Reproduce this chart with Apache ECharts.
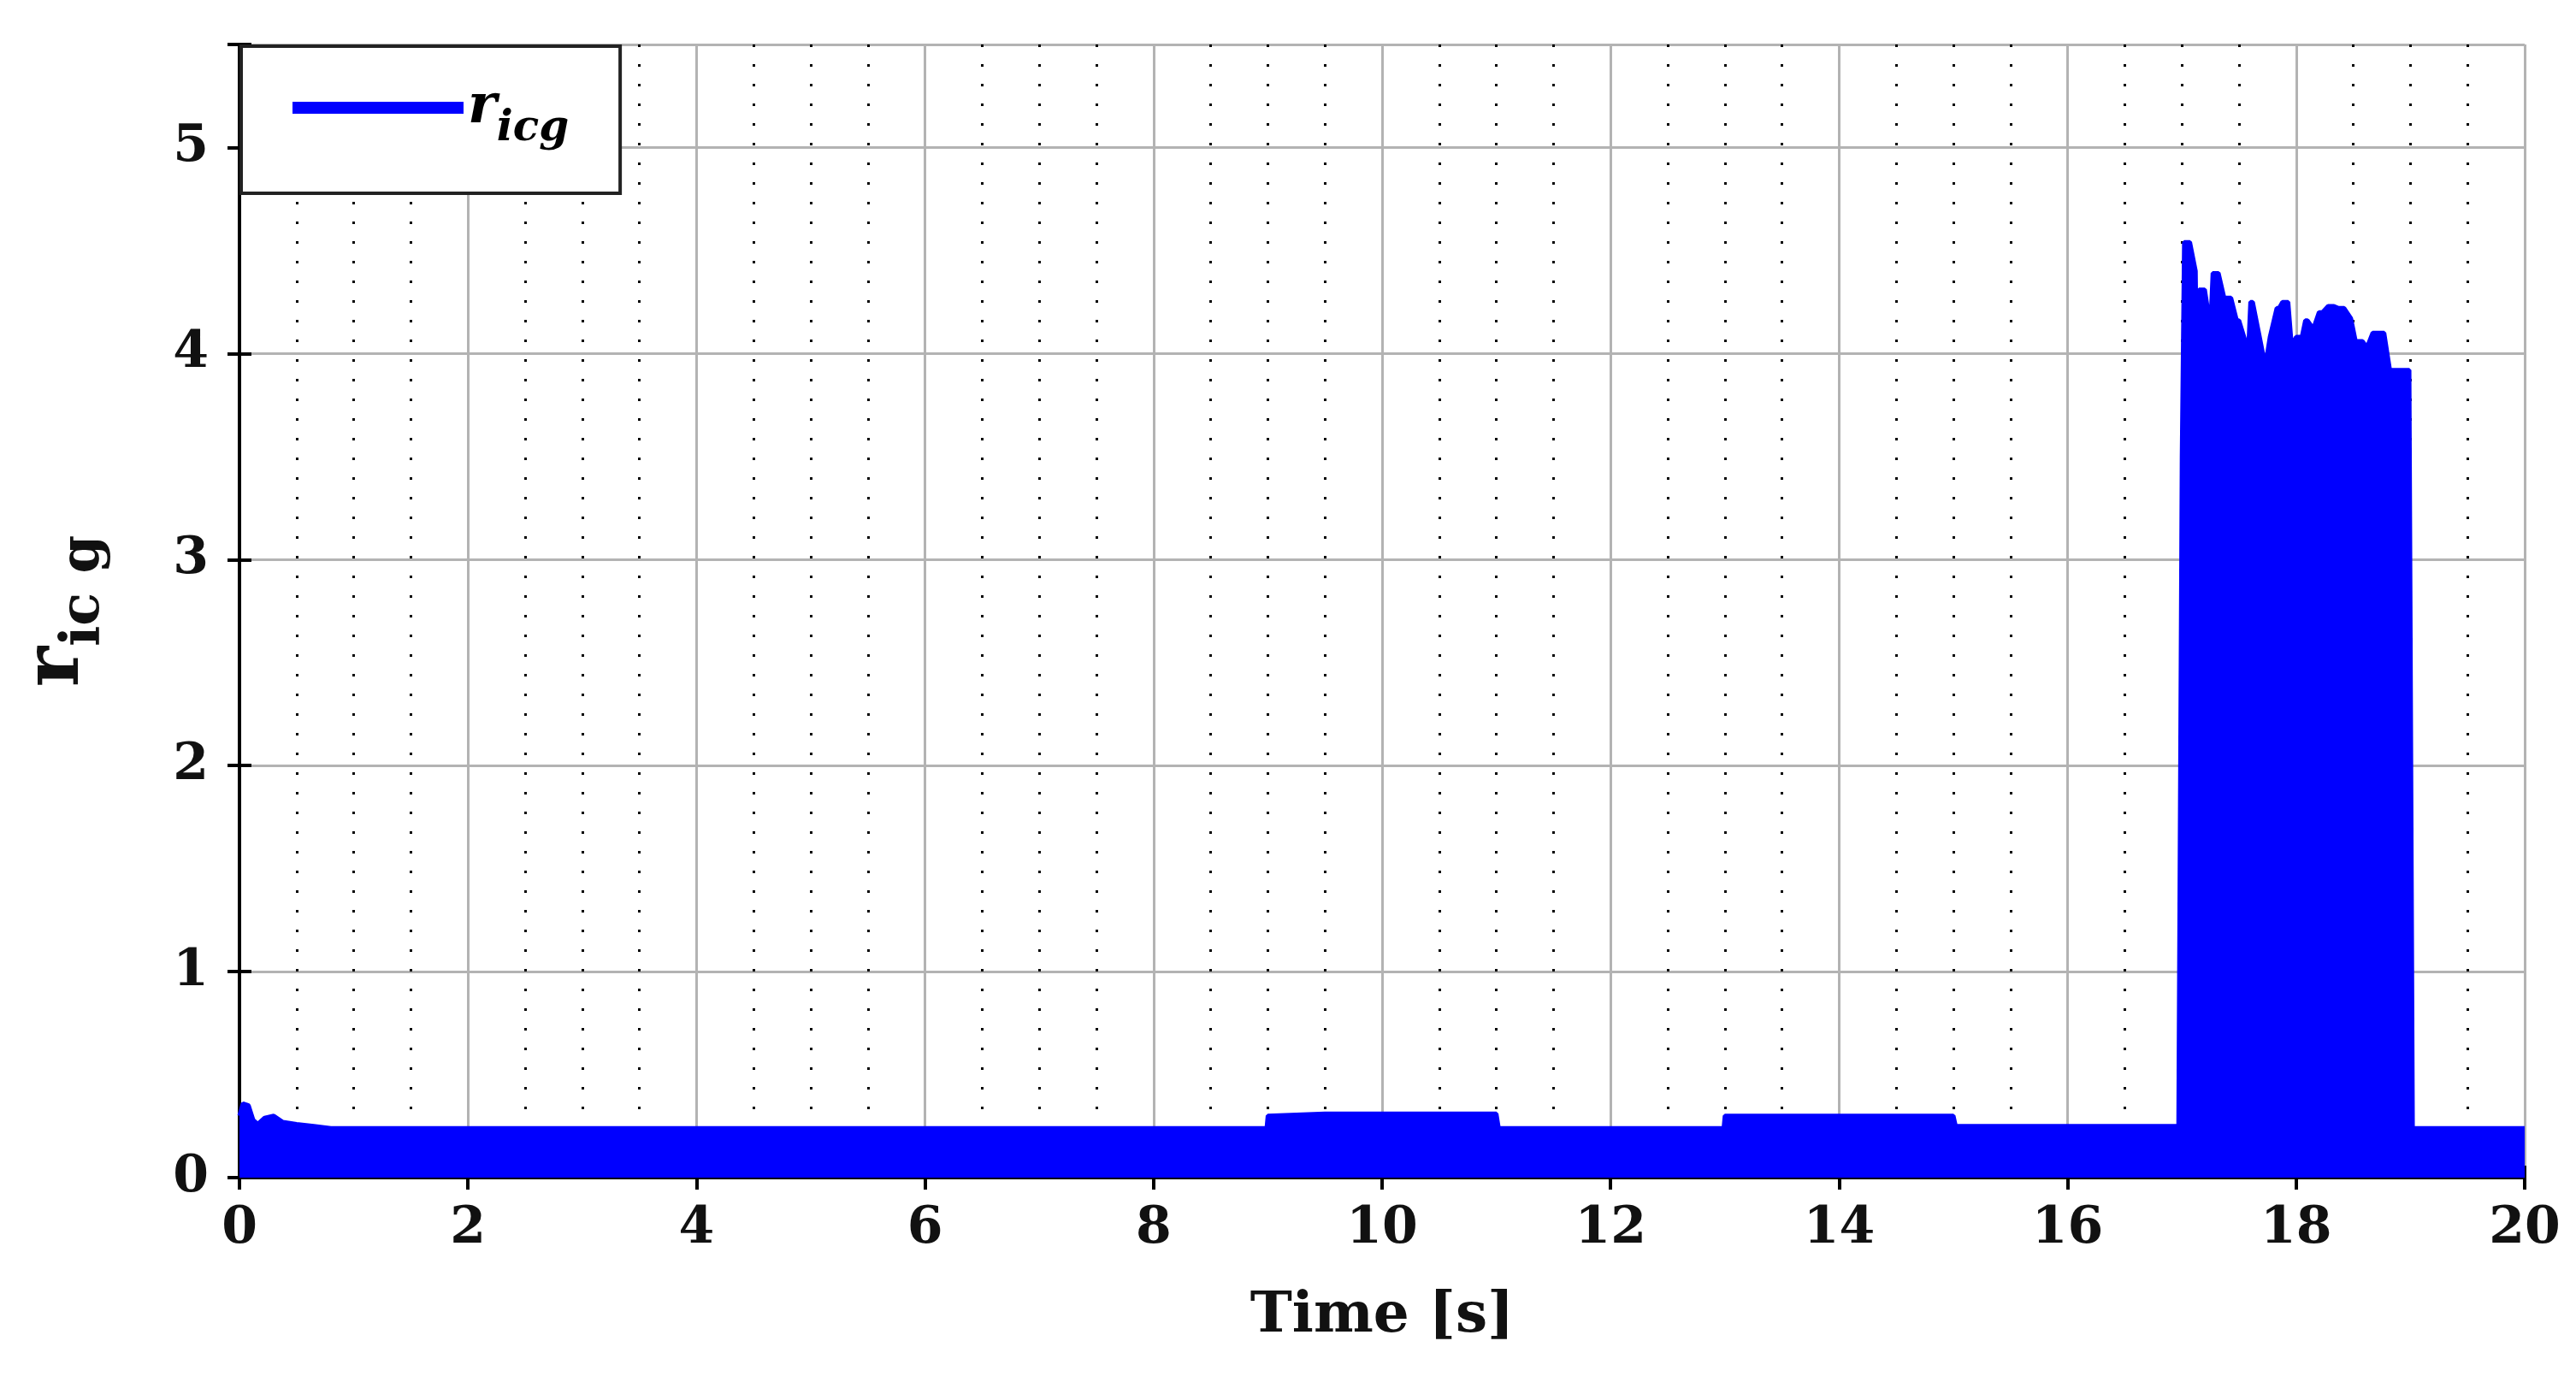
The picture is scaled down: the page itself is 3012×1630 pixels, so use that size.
<!DOCTYPE html>
<html>
<head>
<meta charset="utf-8">
<script src="https://cdn.jsdelivr.net/npm/echarts@6/dist/echarts.min.js"></script>
<style>html,body{margin:0;background:#fff}#c{width:3012px;height:1630px}</style>
</head>
<body>
<div id="c"></div>
<script>
// upper envelope of r_icg
var times = [0, 0.03, 0.08, 0.12, 0.16, 0.22, 0.3, 0.38, 0.5, 0.65, 0.8, 1.0, 3, 5, 7, 8.99,
  9.0, 9.5, 10, 10.5, 11.0, 11.02, 12.9, 12.99, 13.0, 13.5, 14, 14.5, 15.0, 15.02, 16.97,
  17.0, 17.02, 17.07, 17.12, 17.13, 17.15, 17.2, 17.25, 17.26, 17.27, 17.32, 17.37, 17.38, 17.43,
  17.48, 17.5, 17.55, 17.58, 17.6, 17.62, 17.67, 17.73, 17.77, 17.83, 17.85, 17.88, 17.93,
  17.96, 18.0, 18.05, 18.08, 18.1, 18.15, 18.2, 18.23, 18.28, 18.33, 18.37, 18.42, 18.48,
  18.52, 18.58, 18.62, 18.67, 18.71, 18.77, 18.82, 18.86, 18.9, 18.95, 18.99, 19.0, 19.02, 20];
var values = [0.3, 0.36, 0.35, 0.28, 0.26, 0.29, 0.3, 0.27, 0.26, 0.25, 0.24, 0.24, 0.24, 0.24, 0.24, 0.24,
  0.3, 0.31, 0.31, 0.31, 0.31, 0.24, 0.24, 0.24, 0.3, 0.3, 0.3, 0.3, 0.3, 0.25, 0.25,
  3.5, 4.54, 4.54, 4.4, 3.92, 4.31, 4.31, 4.13, 4.13, 4.39, 4.39, 4.27, 4.27, 4.27,
  4.16, 4.16, 4.07, 4.0, 4.25, 4.25, 4.11, 3.94, 4.08, 4.22, 4.22, 4.25, 4.25,
  4.04, 4.08, 4.08, 4.16, 4.16, 4.12, 4.2, 4.2, 4.23, 4.23, 4.22, 4.22, 4.17,
  4.06, 4.06, 4.03, 4.1, 4.1, 4.1, 3.92, 3.92, 3.92, 3.92, 3.92, 3.92, 0.24, 0.24];
var xTicks = [0, 2, 4, 6, 8, 10, 12, 14, 16, 18, 20];
var yTicks = [0, 1, 2, 3, 4, 5];

var pts = [];
for (var i = 0; i < times.length; i++) pts.push([times[i], values[i]]);

var font = 'DejaVu Serif';
var lab = {fontFamily: font, fontWeight: 'bold', fontSize: 60, color: '#111'};
var chart = echarts.init(document.getElementById('c'));
chart.setOption({
  animation: false,
  grid: {left: 280, right: 60, top: 52, bottom: 253},
  legend: {
    left: 282, top: 54, orient: 'horizontal',
    itemWidth: 200, itemHeight: 14, itemGap: 18,
    padding: [40, 60, 50, 60],
    borderColor: '#222', borderWidth: 4, backgroundColor: '#fff',
    icon: 'rect',
    formatter: function () { return '{r|r}{s|icg}'; },
    textStyle: {rich: {
      r: {fontFamily: font, fontStyle: 'italic', fontWeight: 'bold', fontSize: 64, color: '#000'},
      s: {fontFamily: font, fontStyle: 'italic', fontWeight: 'bold', fontSize: 50, color: '#000', padding: [50, 0, 0, 0]}
    }}
  },
  xAxis: [{
    type: 'value', min: 0, max: 20, interval: 2,
    name: 'Time [s]', nameLocation: 'middle', nameGap: 130,
    nameTextStyle: {fontFamily: font, fontWeight: 'bold', fontSize: 66, color: '#111'},
    axisLine: {lineStyle: {color: '#000', width: 4}},
    axisTick: {inside: true, length: 14, lineStyle: {color: '#000', width: 4}},
    axisLabel: Object.assign({margin: 30, formatter: function (v) { return xTicks.indexOf(v) >= 0 ? String(v) : ''; }}, lab),
    splitLine: {lineStyle: {color: '#b3b3b3', width: 3}},
    minorTick: {show: true, splitNumber: 4, length: 0},
    minorSplitLine: {show: true, lineStyle: {color: '#000', width: 3, type: [3, 20]}}
  }, {
    type: 'value', min: 0, max: 20, interval: 2, position: 'top',
    axisLine: {show: true, lineStyle: {color: '#000', width: 4}},
    axisTick: {inside: true, length: 14, lineStyle: {color: '#000', width: 4}},
    axisLabel: {show: false}, splitLine: {show: false}
  }],
  yAxis: [{
    type: 'value', min: 0, max: 5.5, interval: 1,
    name: '{r|r}{s|ic g}', nameLocation: 'middle', nameGap: 150,
    nameTextStyle: {rich: {
      r: {fontFamily: font, fontWeight: 'bold', fontSize: 90, color: '#111'},
      s: {fontFamily: font, fontWeight: 'bold', fontSize: 64, color: '#111', padding: [60, 0, 0, 0]}
    }},
    axisLine: {show: true, lineStyle: {color: '#000', width: 4}},
    axisTick: {inside: true, length: 14, lineStyle: {color: '#000', width: 4}},
    axisLabel: Object.assign({margin: 36, formatter: function (v) { return yTicks.indexOf(v) >= 0 ? String(v) : ''; }}, lab),
    splitLine: {lineStyle: {color: '#b3b3b3', width: 3}}
  }, {
    type: 'value', min: 0, max: 5.5, interval: 1, position: 'right',
    axisLine: {show: true, lineStyle: {color: '#000', width: 4}},
    axisTick: {inside: true, length: 14, lineStyle: {color: '#000', width: 4}},
    axisLabel: {show: false}, splitLine: {show: false}
  }],
  series: [{
    name: 'r_icg', type: 'line', data: pts, showSymbol: false,
    lineStyle: {color: '#0000ff', width: 5},
    itemStyle: {color: '#0000ff'},
    areaStyle: {color: '#0000ff', opacity: 1}
  }]
});
</script>
</body>
</html>
